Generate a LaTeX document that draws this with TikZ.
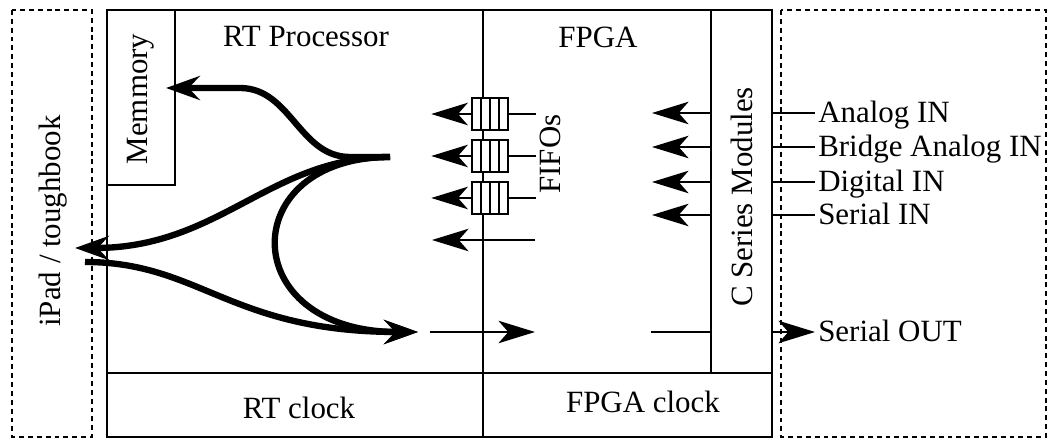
\documentclass[tikz,border=0pt]{standalone}
\usepackage{fontspec}
\setmainfont{Liberation Serif}
\usetikzlibrary{arrows.meta}

\tikzset{
    box/.style={line width=1.4pt},
    dashbox/.style={line width=1.4pt, dash pattern=on 3.5pt off 2.8pt},
    flow/.style={line width=1.4pt, -{Stealth[length=26pt, width=16pt, inset=7pt]}},
    bigflow/.style={line width=4.5pt, -{Stealth[length=24pt, width=17pt, inset=8pt]}},
    lbl/.style={inner sep=0pt, font=\fontsize{22pt}{26pt}\selectfont},
    fifo/.style={draw, fill=white, line width=1pt, inner sep=0pt,
        minimum width=0.9cm, minimum height=0.8cm,
        path picture={
            \foreach \k in {1,2,3}
                \draw[line width=1pt] ([xshift=\k*0.225cm]path picture bounding box.south west)
                    -- ([xshift=\k*0.225cm]path picture bounding box.north west);
        }},
}

\begin{document}
\begin{tikzpicture}[x=0.025cm, y=-0.025cm]
    \useasboundingbox (0,0) rectangle (1048,439);
    % outer boxes
    \draw[dashbox] (12,10) rectangle (92,437);
    \draw[dashbox] (781,10) rectangle (1046,437);
    \draw[box] (107,10) rectangle (772,437);
    \draw[box] (483,10) -- (483,437);
    \draw[box] (107,373) -- (772,373);
    \node[draw, box, inner sep=0pt, minimum width=1.7cm, minimum height=4.375cm] (mem) at (141,97.5) {};
    \node[draw, box, inner sep=0pt, minimum width=1.525cm, minimum height=9.075cm] (cseries) at (741.5,191.5) {};

    % labels
    \node[lbl, anchor=base] (rtname) at (306,47) {RT Processor};
    \node[lbl, anchor=base] (fpganame) at (598,48) {FPGA};
    \node[lbl, anchor=base] (rtclock) at (299,418) {RT clock};
    \node[lbl, anchor=base] (fpgaclock) at (643,412) {FPGA clock};
    \node[lbl, rotate=90, anchor=base] (memname) at (147,99) {Memmory};
    \node[lbl, rotate=90, anchor=base] (ipad) at (60,221) {iPad / toughbook};
    \node[lbl, rotate=90, anchor=base] (fifoname) at (560,154) {FIFOs};
    \node[lbl, rotate=90, anchor=base] (csname) at (752,197) {C Series Modules};

    % fifos
    \foreach \y [count=\i] in {114,156,198} {
        \node[fifo] (fifo\i) at (490,\y) {};
        \draw[flow] (fifo\i.west) -- ++(-40,0);
        \draw[box] (fifo\i.east) -- ++(27,0);
    }
    \coordinate (rtin) at (535,240);
    \draw[flow] (rtin) -- ++(-103,0);

    % module inputs
    \foreach \y/\txt in {113/Analog IN, 147/Bridge Analog IN, 182/Digital IN, 215/Serial IN} {
        \coordinate (in) at (815,\y);
        \draw[box] (cseries.east |- in) -- (in);
        \node[lbl, anchor=base west] at (818,\y+10) {\txt};
        \draw[flow] (cseries.west |- in) -- ++(-58,0);
    }
    % module output
    \coordinate (out) at (815,332);
    \draw[flow] (cseries.east |- out) -- (out);
    \node[lbl, anchor=base west] (serialout) at (818,342) {Serial OUT};
    \draw[box] (cseries.west |- out) -- ++(-59,0);
    \coordinate (rtout) at (430,332);
    \draw[flow] (rtout) -- ++(105,0);

    % data paths in the RT processor
    \coordinate (split) at (390,157);
    \coordinate (memtip) at (166,88);
    \coordinate (padtip) at (75,248);
    \coordinate (padsrc) at (85,262);
    \coordinate (rttip) at (418,332);
    \draw[bigflow] (split) -- (350,157) to[out=180,in=0] (240,88) -- (memtip);
    \draw[bigflow] (split) .. controls (270,157) and (220,248) .. (padtip);
    \draw[bigflow] (split) .. controls (235,157) and (235,332) .. (rttip);
    \draw[bigflow] (padsrc) .. controls (200,262) and (230,332) .. (rttip);
\end{tikzpicture}
\end{document}
